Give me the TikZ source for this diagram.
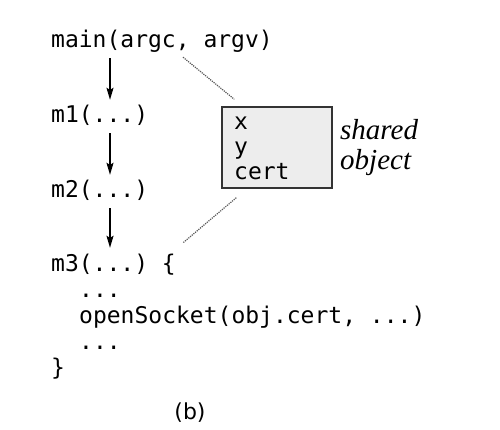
\documentclass[tikz,border=0pt]{standalone}
\usepackage{fontspec}
\setmonofont{DejaVu Sans Mono}
\newfontfamily\capfont{DejaVu Sans}
\newfontfamily\notefont{Liberation Serif}
\usetikzlibrary{arrows.meta,calc}
\begin{document}
\begin{tikzpicture}[x=1pt,y=-1pt,
  code/.style={anchor=base west,inner sep=0pt,font=\ttfamily\fontsize{23}{26}\selectfont,text height=17pt,text depth=4pt},
  arr/.style={-{Stealth[length=12pt,width=7pt,inset=2pt]},line width=1.3pt,shorten <=6pt,shorten >=6pt},
  link/.style={densely dotted,line width=1.2pt,draw=black!65},
  objbox/.style={draw=black!80,line width=1.4pt,fill=black!7,minimum width=110pt,minimum height=81pt,inner sep=0pt},
  note/.style={anchor=base west,inner sep=0pt,font=\notefont\itshape\fontsize{29}{30}\selectfont},
  captext/.style={anchor=base,inner sep=0pt,font=\capfont\fontsize{22}{24}\selectfont}]
\useasboundingbox (0,0) rectangle (500,430);
% code lines
\node[code] (main) at (51,48) {main(argc, argv)};
\node[code] (m1) at (51,123) {m1(...)};
\node[code] (m2) at (51,198) {m2(...)};
\node[code] (m3) at (51,271) {m3(...) \{};
\node[code] (dots1) at (79,297) {...};
\node[code] (open) at (79,323) {openSocket(obj.cert, ...)};
\node[code] (dots2) at (79,349) {...};
\node[code] (close) at (51,375) {\}};
% arrows
\coordinate (ax) at (110,0);
\draw[arr] (main.south -| ax) -- (m1.north -| ax);
\draw[arr] (m1.south -| ax) -- (m2.north -| ax);
\draw[arr] (m2.south -| ax) -- (m3.north -| ax);
% shared object
\node[objbox] (obj) at (277,147.5) {};
\node[code] (ox) at (234,130) {x};
\node[code] (oy) at (234,155) {y};
\node[code] (ocert) at (234,180) {cert};
\node[note] (shared) at (340,140) {shared};
\node[note] (object) at (340,170) {object};
% dotted links
\draw[link] ($(main.south west)+(132,5)$) -- ($(obj.north west)+(13,-7)$);
\draw[link] ($(obj.south west)+(15,9)$) -- ($(m3.north west)+(132,-11)$);
% caption
\node[captext] (cap) at (190,419) {(b)};
\end{tikzpicture}
\end{document}
